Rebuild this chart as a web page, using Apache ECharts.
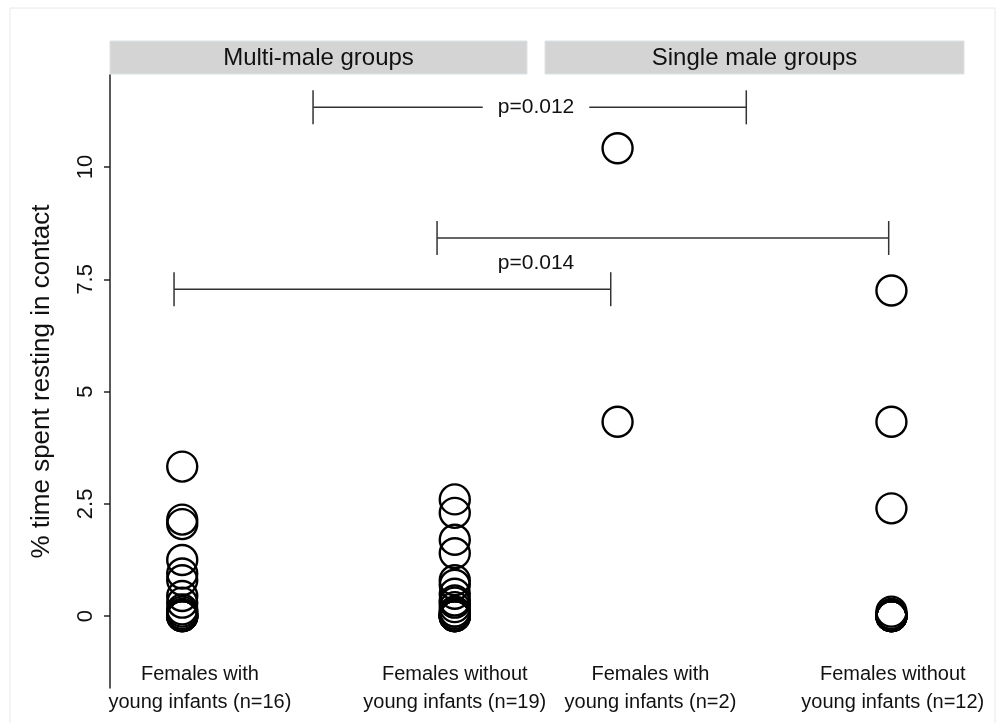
<!DOCTYPE html>
<html>
<head>
<meta charset="utf-8">
<script src="https://cdn.jsdelivr.net/npm/echarts@6/dist/echarts.min.js"></script>
<style>
  html, body { margin: 0; padding: 0; background: #fff; }
  #chart { width: 1005px; height: 723px; }
</style>
</head>
<body>
<div id="chart"></div>
<script>
// panel titles (one panel per group type)
const panels = ['Multi-male groups', 'Single male groups'];
// category labels inside each panel
const groupLabels = [
  ['Females with\nyoung infants (n=16)', 'Females without\nyoung infants (n=19)'],
  ['Females with\nyoung infants (n=2)', 'Females without\nyoung infants (n=12)']
];
// % time spent resting in contact, one value per female
const multiWith = [3.33, 2.15, 2.05, 1.25, 0.95, 0.8, 0.45, 0.3, 0.15, 0.1, 0.05, 0, 0, 0, 0, 0];
const multiWithout = [2.6, 2.3, 1.7, 1.4, 0.8, 0.7, 0.5, 0.35, 0.3, 0.2, 0.1, 0.1, 0.05, 0, 0, 0, 0, 0, 0];
const singleWith = [10.42, 4.33];
const singleWithout = [7.25, 4.33, 2.4, 0.1, 0.05, 0, 0, 0, 0, 0, 0, 0];
const yTicks = [0, 2.5, 5, 7.5, 10];

// significance brackets: ends given as [panel, x], level in y units
const brackets = [
  { from: [0, 1.48], to: [1, 1.47], y: 11.33, label: 'p=0.012', labelY: 11.33 },
  { from: [0, 1.935], to: [1, 1.99], y: 8.42 },
  { from: [0, 0.97], to: [1, 0.975], y: 7.28, label: 'p=0.014', labelY: 7.86 }
];

const FONT = '"Liberation Sans", Arial, Helvetica, sans-serif';
const xMin = 0.735, xMax = 2.265;
const yMin = -1.6, yMax = 12.05;

// panel layout; category labels are nudged right a little like the original
const gridTop = 75, gridBottom = 35;
const grids = [
  { left: 110, width: 417, labelAt: [1.065, 2.0] },
  { left: 545, width: 419, labelAt: [1.12, 2.005] }
];

const chart = echarts.init(document.getElementById('chart'));

const makeSeries = (values, panel, slot) => ({
  type: 'scatter',
  xAxisIndex: panel,
  yAxisIndex: panel,
  symbol: 'circle',
  symbolSize: 30,
  data: values.map(v => [slot, v]),
  itemStyle: {
    color: 'rgba(0,0,0,0)',
    borderColor: '#000',
    borderWidth: 2.4,
    opacity: 1
  },
  emphasis: { disabled: true },
  silent: true
});

const option = {
  backgroundColor: '#fff',
  animation: false,
  grid: grids.map(g => ({
    left: g.left, width: g.width, top: gridTop, bottom: gridBottom
  })),
  xAxis: grids.map((g, i) => ({
    type: 'value',
    gridIndex: i,
    min: xMin,
    max: xMax,
    axisLine: { show: false },
    axisTick: { show: false },
    splitLine: { show: false },
    axisLabel: {
      customValues: g.labelAt,
      formatter: v => groupLabels[i][g.labelAt.indexOf(v)],
      margin: -28,
      fontFamily: FONT,
      fontSize: 20,
      lineHeight: 28,
      color: '#111'
    }
  })),
  yAxis: [
    {
      type: 'value',
      gridIndex: 0,
      min: yMin,
      max: yMax,
      name: '% time spent resting in contact',
      nameLocation: 'middle',
      nameGap: 55,
      nameTextStyle: { fontFamily: FONT, fontSize: 26, color: '#111' },
      axisLine: { show: true, lineStyle: { color: '#222', width: 1.5 } },
      axisTick: { show: true, customValues: yTicks, length: 6, lineStyle: { color: '#222', width: 1.5 } },
      splitLine: { show: false },
      axisLabel: {
        customValues: yTicks,
        rotate: 90,
        margin: 13,
        fontFamily: FONT,
        fontSize: 22,
        color: '#111'
      }
    },
    {
      type: 'value',
      gridIndex: 1,
      min: yMin,
      max: yMax,
      show: false,
      splitLine: { show: false }
    }
  ],
  series: [
    makeSeries(multiWith, 0, 1),
    makeSeries(multiWithout, 0, 2),
    makeSeries(singleWith, 1, 1),
    makeSeries(singleWithout, 1, 2)
  ]
};

chart.setOption(option);

// 注释层：边框、面板标题、显著性标记
const graphics = [];
graphics.push({
  type: 'rect',
  silent: true,
  shape: { x: 10, y: 8, width: 985, height: 740 },
  style: { fill: 'none', stroke: '#e4eaed', lineWidth: 1 }
});

grids.forEach((g, i) => {
  graphics.push({
    type: 'rect',
    silent: true,
    shape: { x: g.left, y: 41, width: g.width, height: 33 },
    style: { fill: '#d4d4d4', stroke: '#dde3e6', lineWidth: 1 }
  });
  graphics.push({
    type: 'text',
    silent: true,
    x: g.left + g.width / 2,
    y: 58,
    style: {
      text: panels[i],
      font: '24px ' + FONT,
      fill: '#111',
      align: 'center',
      verticalAlign: 'middle',
      textAlign: 'center',
      textVerticalAlign: 'middle'
    }
  });
});

// label x sits in the gap between the two panels
const labelX = (grids[0].left + grids[0].width + grids[1].left) / 2;
const capHalf = 17;
const lineStyle = { stroke: '#333', lineWidth: 1.5 };

brackets.forEach(b => {
  const p1 = chart.convertToPixel({ gridIndex: b.from[0] }, [b.from[1], b.y]);
  const p2 = chart.convertToPixel({ gridIndex: b.to[0] }, [b.to[1], b.y]);
  graphics.push({
    type: 'line', silent: true,
    shape: { x1: p1[0], y1: p1[1], x2: p2[0], y2: p2[1] },
    style: lineStyle
  });
  [p1, p2].forEach(p => {
    graphics.push({
      type: 'line', silent: true,
      shape: { x1: p[0], y1: p[1] - capHalf, x2: p[0], y2: p[1] + capHalf },
      style: lineStyle
    });
  });
  if (b.label) {
    const ly = chart.convertToPixel({ gridIndex: 0 }, [1, b.labelY])[1];
    graphics.push({
      type: 'text', silent: true, z: 10,
      x: labelX,
      y: ly,
      style: {
        text: b.label,
        font: '21px ' + FONT,
        fill: '#111',
        align: 'center',
        verticalAlign: 'middle',
        textAlign: 'center',
        textVerticalAlign: 'middle',
        backgroundColor: '#fff',
        padding: [2, 15]
      }
    });
  }
});

chart.setOption({ graphic: graphics });
</script>
</body>
</html>
